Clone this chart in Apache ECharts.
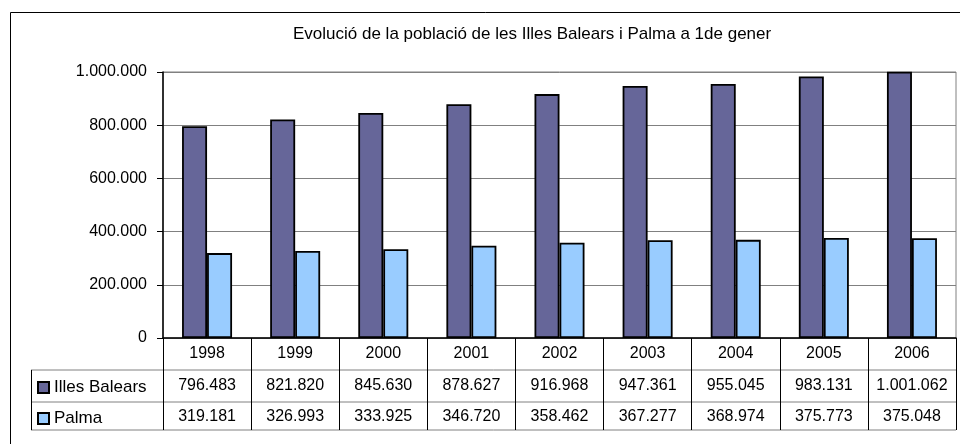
<!DOCTYPE html>
<html>
<head>
<meta charset="utf-8">
<script src="https://cdn.jsdelivr.net/npm/echarts@6/dist/echarts.min.js"></script>
<style>
    html, body { margin: 0; padding: 0; background: #fff; }
    #chart { width: 960px; height: 444px; }
</style>
</head>
<body>
<div id="chart"></div>
<script>
(function () {
    var years = ['1998', '1999', '2000', '2001', '2002', '2003', '2004', '2005', '2006'];
    var illesBalears = [796483, 821820, 845630, 878627, 916968, 947361, 955045, 983131, 1001062];
    var palma = [319181, 326993, 333925, 346720, 358462, 367277, 368974, 375773, 375048];
    var yTicks = [0, 200000, 400000, 600000, 800000, 1000000];

    var FONT = 'Liberation Sans';
    /**
     * format 1000000 -> 1.000.000
     */
    var fmt = function (v) {
        return String(v).replace(/\B(?=(\d{3})+(?!\d))/g, '.');
    };

    var rowAxis = function (data, offset, margin) {
        return {
            type: 'category',
            position: 'bottom',
            offset: offset,
            data: data.map(fmt),
            axisLine: { show: false },
            axisTick: { show: false },
            splitLine: { show: false },
            axisLabel: { interval: 0, margin: margin, fontSize: 16, color: '#000', fontFamily: FONT }
        };
    };

    var bar = function (name, color, data) {
        return {
            name: name,
            type: 'bar',
            xAxisIndex: 0,
            barWidth: 25,
            barGap: '0%',
            itemStyle: { color: color, borderColor: '#000', borderWidth: 1.8 },
            data: data
        };
    };

    var chart = echarts.init(document.getElementById('chart'));
    var line = function (x1, y1, x2, y2, color) {
        return {
            type: 'line',
            silent: true,
            shape: { x1: x1, y1: y1, x2: x2, y2: y2 },
            style: { stroke: color, lineWidth: 1 }
        };
    };

    chart.setOption({
        animation: false,
        textStyle: { fontFamily: FONT },
        title: {
            text: 'Evolució de la població de les Illes Balears i Palma a 1de gener',
            left: 288,
            top: 21,
            textStyle: { fontSize: 17, fontWeight: 'normal', color: '#000', fontFamily: FONT }
        },
        legend: {
            orient: 'vertical',
            left: 37,
            top: 379,
            padding: 0,
            icon: 'rect',
            itemWidth: 11,
            itemHeight: 11,
            itemGap: 14,
            selectedMode: false,
            data: ['Illes Balears', 'Palma'],
            textStyle: { fontSize: 17, color: '#000', fontFamily: FONT }
        },
        grid: {
            left: 163,
            right: 4,
            top: 72,
            bottom: 106,
            show: true,
            borderColor: '#808080',
            borderWidth: 1
        },
        xAxis: [{
            type: 'category',
            position: 'bottom',
            data: years,
            axisLine: { lineStyle: { color: '#000', width: 1.5 } },
            axisTick: { show: true, interval: 0, length: 92, lineStyle: { color: '#000', width: 1 } },
            splitLine: { show: false },
            axisLabel: { interval: 0, margin: 8, fontSize: 16, color: '#000', fontFamily: FONT }
        },
            rowAxis(illesBalears, 32, 8),
            rowAxis(palma, 64, 7)
        ],
        yAxis: {
            type: 'value',
            min: yTicks[0],
            max: yTicks[yTicks.length - 1],
            interval: yTicks[1] - yTicks[0],
            axisLine: { show: true, lineStyle: { color: '#000', width: 1.5 } },
            axisTick: { show: true, length: 6, lineStyle: { color: '#000' } },
            splitLine: { show: true, lineStyle: { color: '#808080', width: 1 } },
            axisLabel: { formatter: fmt, margin: 16, fontSize: 16, color: '#000', fontFamily: FONT }
        },
        graphic: [
            {
                type: 'rect',
                silent: true,
                shape: { x: 10.5, y: 12.5, width: 1000, height: 500 },
                style: { fill: null, stroke: '#000', lineWidth: 1 }
            },
            line(31, 370, 956, 370, '#808080'),
            line(31, 402, 956, 402, '#808080'),
            line(31, 430, 956, 430, '#808080'),
            line(31.5, 370, 31.5, 430, '#000')
        ],
        series: [
            bar('Illes Balears', '#666699', illesBalears),
            bar('Palma', '#99ccff', palma)
        ]
    });

    window.addEventListener('resize', function () {
        chart.resize();
    });
})();
</script>
</body>
</html>
